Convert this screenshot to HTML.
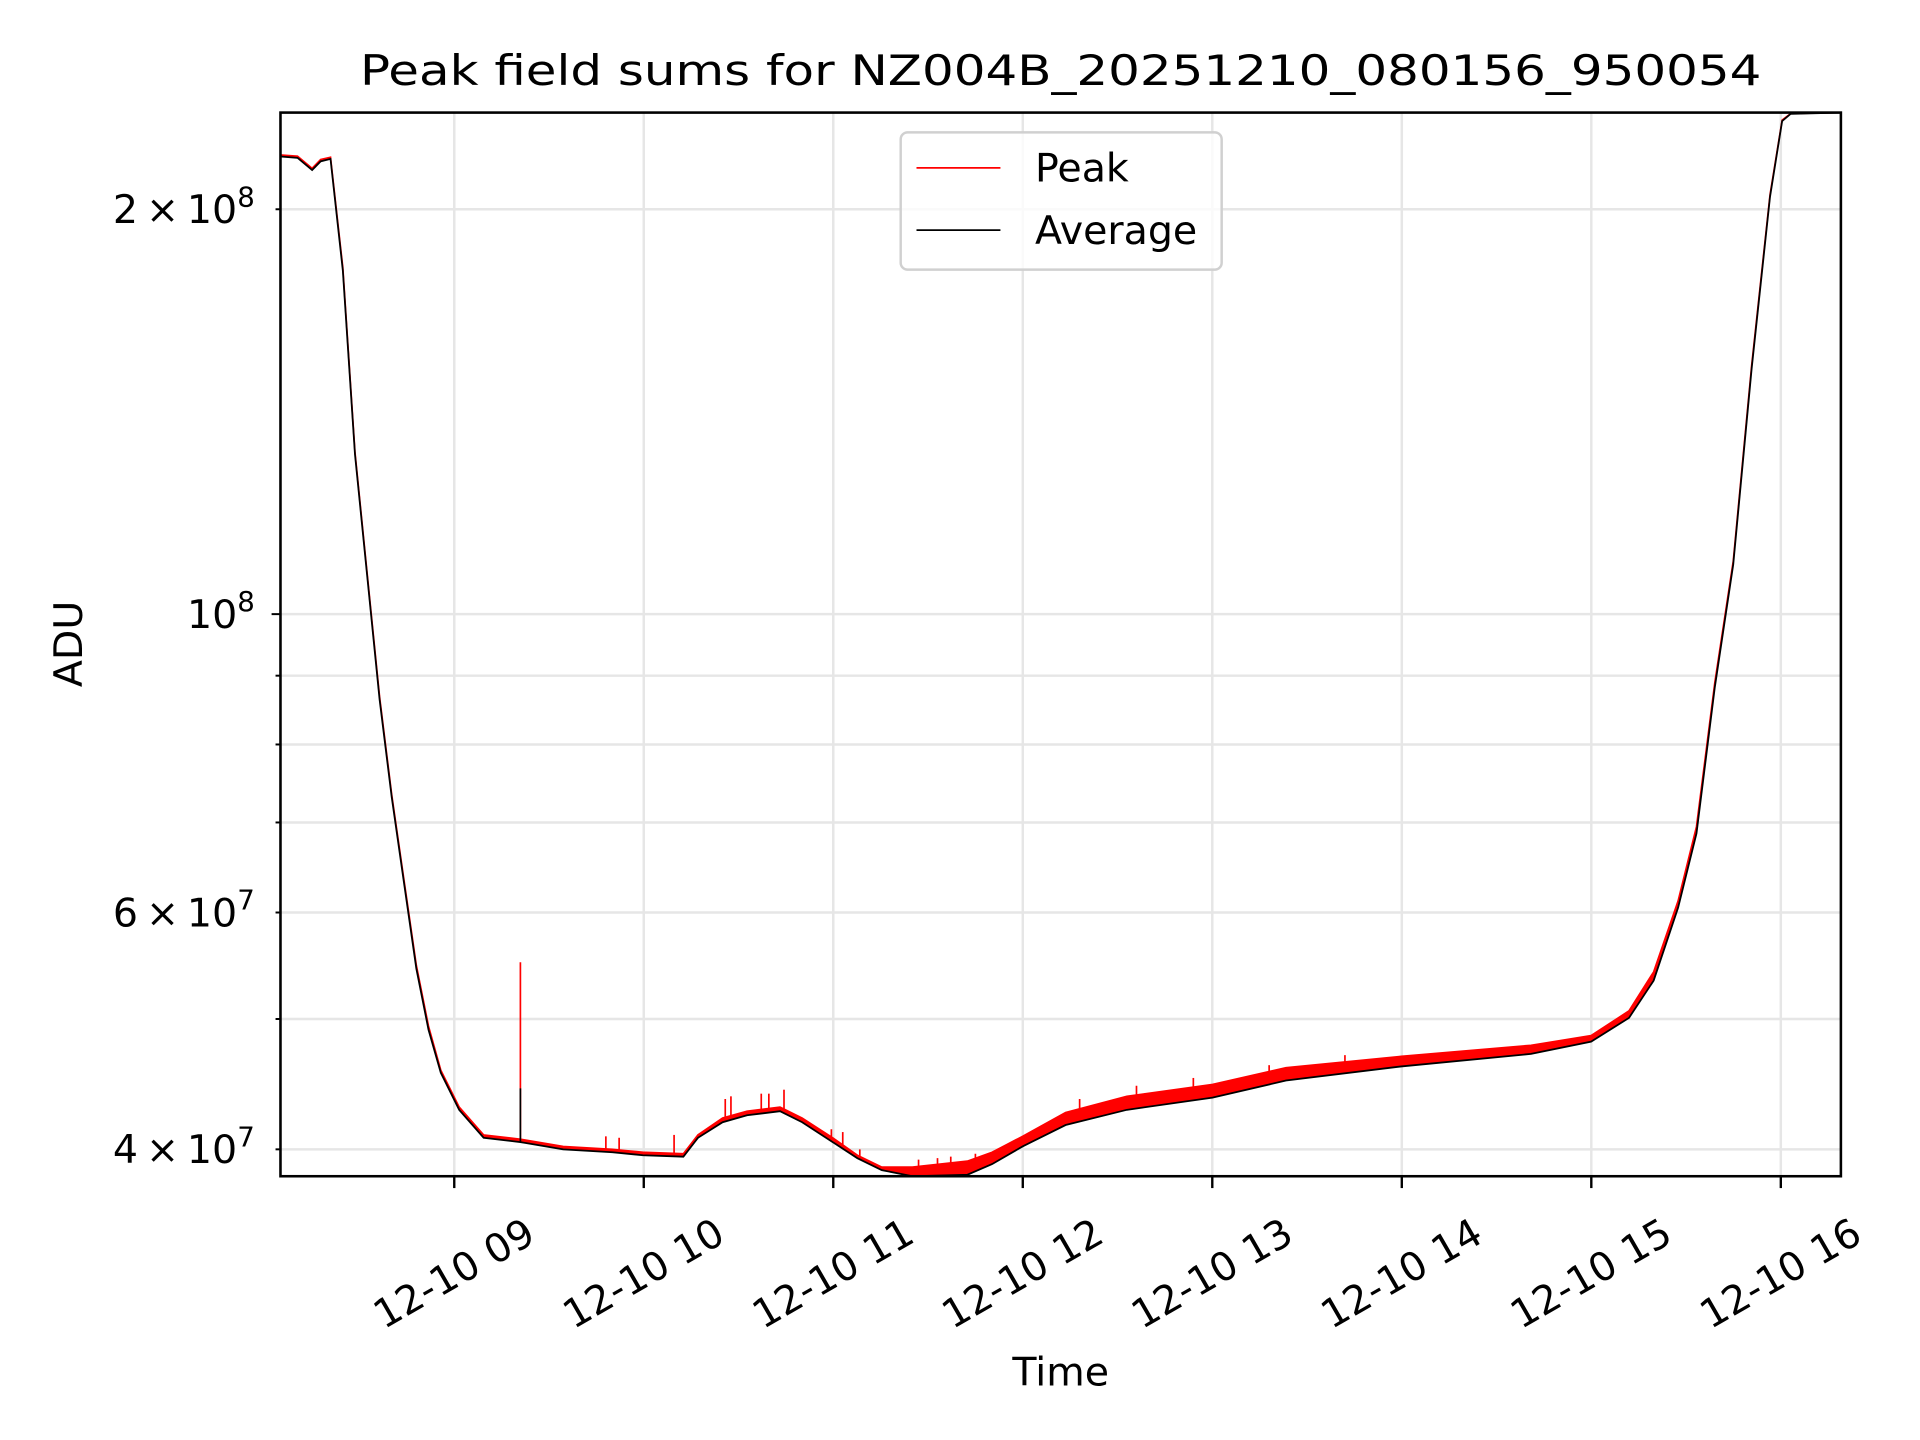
<!DOCTYPE html>
<html><head><meta charset="utf-8"><style>
html,body{margin:0;padding:0;background:#fff}
svg{display:block}
text{font-family:"DejaVu Sans","Liberation Sans",sans-serif;fill:#000}
</style></head><body>
<svg id="chart" width="1920" height="1440" viewBox="0 0 1920 1440" xmlns="http://www.w3.org/2000/svg">
<rect width="1920" height="1440" fill="#fff"/>
<g transform="scale(0.9876)">
<g id="grid"></g>
<g id="series"></g>
<rect x="284" y="114" width="1580" height="1077" fill="none" stroke="#000" stroke-width="2.6"/>
<g id="ticks"></g>
<text x="1074" y="86" text-anchor="middle" font-size="42" textLength="1419" lengthAdjust="spacingAndGlyphs">Peak field sums for NZ004B_20251210_080156_950054</text>
<text transform="translate(83,652) rotate(-90)" text-anchor="middle" font-size="40">ADU</text>
<text x="1074" y="1403" text-anchor="middle" font-size="40">Time</text>
<g>
<rect x="912" y="134" width="325" height="139" rx="7" fill="#fff" fill-opacity="0.8" stroke="#d0d0d0" stroke-width="2.5"/>
<line x1="928" y1="170" x2="1013" y2="170" stroke="#f00" stroke-width="1.7"/>
<text x="1048" y="184" font-size="40">Peak</text>
<line x1="928" y1="233" x2="1013" y2="233" stroke="#000" stroke-width="1.7"/>
<text x="1048" y="247" font-size="40">Average</text>
</g>
</g>
</svg>
<script>
const times = [8.082,8.173,8.250,8.295,8.347,8.412,8.476,8.541,8.606,8.670,8.735,8.800,8.864,8.929,9.026,9.155,9.349,9.575,9.834,9.995,10.209,10.286,10.416,10.545,10.719,10.836,10.997,11.127,11.256,11.418,11.708,11.838,11.999,12.226,12.549,13.001,13.389,13.997,14.682,14.999,15.199,15.329,15.458,15.555,15.652,15.749,15.846,15.943,16.007,16.052,16.317];
const avgValues = [2.189e8,2.184e8,2.139e8,2.171e8,2.180e8,1.801e8,1.315e8,1.066e8,8.64e7,7.31e7,6.31e7,5.45e7,4.91e7,4.56e7,4.28e7,4.08e7,4.05e7,4.00e7,3.98e7,3.96e7,3.95e7,4.08e7,4.19e7,4.24e7,4.27e7,4.19e7,4.05e7,3.94e7,3.86e7,3.82e7,3.83e7,3.90e7,4.02e7,4.17e7,4.28e7,4.37e7,4.50e7,4.61e7,4.71e7,4.81e7,5.01e7,5.34e7,6.05e7,6.87e7,8.83e7,1.089e8,1.522e8,2.043e8,2.326e8,2.355e8,2.36e8];
const peakValues = [2.195e8,2.19e8,2.145e8,2.178e8,2.186e8,1.81e8,1.32e8,1.07e8,8.68e7,7.34e7,6.34e7,5.48e7,4.94e7,4.58e7,4.30e7,4.10e7,4.07e7,4.02e7,4.00e7,3.98e7,3.97e7,4.10e7,4.22e7,4.27e7,4.30e7,4.22e7,4.08e7,3.96e7,3.88e7,3.88e7,3.92e7,3.98e7,4.09e7,4.26e7,4.38e7,4.47e7,4.60e7,4.69e7,4.78e7,4.86e7,5.07e7,5.42e7,6.12e7,6.95e7,8.90e7,1.095e8,1.53e8,2.05e8,2.33e8,2.356e8,2.36e8];
const spikeTimes = [9.349,9.80,9.87,10.16,10.43,10.46,10.62,10.66,10.74,10.99,11.05,11.14,11.45,11.55,11.62,11.75,12.3,12.6,12.9,13.3,13.7];
const spikeValues = [5.51e7,4.09e7,4.08e7,4.10e7,4.36e7,4.38e7,4.40e7,4.40e7,4.43e7,4.14e7,4.12e7,4.00e7,3.93e7,3.94e7,3.95e7,3.97e7,4.36e7,4.46e7,4.52e7,4.62e7,4.70e7];
const avgSpikeTimes = [9.349];
const avgSpikeValues = [4.44e7];
const xTickHours = [9,10,11,12,13,14,15,16];
const xTickLabels = ["12-10 09","12-10 10","12-10 11","12-10 12","12-10 13","12-10 14","12-10 15","12-10 16"];
const yGridValues = [3e7,4e7,5e7,6e7,7e7,8e7,9e7,1e8,2e8];
const yLabelValues = [4e7,6e7,1e8,2e8];
const yLabelMantissa = ["4","6","","2"];
const yLabelExp = ["7","7","8","8"];

const X0=284,X1=1864,Y0=114,Y1=1191;
const tMin=8.083,tMax=16.317;
const lMin=Math.log10(3.82e7),lMax=Math.log10(2.36e8);
function xs(t){return X0+(t-tMin)/(tMax-tMin)*(X1-X0);}
function ys(v){return Y1-(Math.log10(v)-lMin)/(lMax-lMin)*(Y1-Y0);}
const NS="http://www.w3.org/2000/svg";
function mk(tag,attrs,parent){const e=document.createElementNS(NS,tag);for(const k in attrs)e.setAttribute(k,attrs[k]);parent.appendChild(e);return e;}
const grid=document.getElementById('grid'),ticks=document.getElementById('ticks'),series=document.getElementById('series');

yGridValues.forEach(v=>{const y=ys(v);if(y<Y0||y>Y1)return;
 const g=mk('line',{x1:X0,x2:X1,y1:y,y2:y,stroke:'#e6e6e6','stroke-width':2.5},grid);
 
 
 const t=mk('line',{x1:X0-(v===1e8?9:5),x2:X0,y1:y,y2:y,stroke:'#000','stroke-width':2},ticks);
 
 
});
xTickHours.forEach((h,i)=>{const x=xs(h);
 const g=mk('line',{x1:x,x2:x,y1:Y0,y2:Y1,stroke:'#e6e6e6','stroke-width':2.5},grid);
 
 
 const t=mk('line',{x1:x,x2:x,y1:Y1,y2:Y1+12,stroke:'#000','stroke-width':2.4},ticks);
 
 
 const lb=mk('text',{x:x,y:1290,'text-anchor':'middle','dominant-baseline':'central','font-size':40,transform:`rotate(-30 ${x} 1290)`},ticks);
 lb.textContent=xTickLabels[i];
 
 
});
yLabelValues.forEach((v,i)=>{const y=ys(v);
 const lb=mk('text',{x:258,y:y+14,'text-anchor':'end','font-size':40},ticks);
 
 
 let s=yLabelMantissa[i]?yLabelMantissa[i]+'\u2009\u00d7\u200910':'10';
 const a=document.createElementNS(NS,'tspan');a.textContent=s;lb.appendChild(a);
 const b=document.createElementNS(NS,'tspan');b.setAttribute('dy','-17');b.setAttribute('font-size','28');b.textContent=yLabelExp[i];lb.appendChild(b);
});

const clip=mk('clipPath',{id:'plotclip'},series);mk('rect',{x:X0,y:Y0,width:X1-X0,height:Y1-Y0},clip);
const pg=mk('g',{'clip-path':'url(#plotclip)'},series);
let band=times.map((t,i)=>`${xs(t)},${ys(peakValues[i])}`);
for(let i=times.length-1;i>=0;i--)band.push(`${xs(times[i])},${ys(avgValues[i])}`);
const bp=mk('polygon',{points:band.join(' '),fill:'#f00'},pg);


const pl=mk('polyline',{points:times.map((t,i)=>`${xs(t)},${ys(peakValues[i])}`).join(' '),fill:'none',stroke:'#f00','stroke-width':1.7},pg);


function interp(arr,t){for(let i=1;i<times.length;i++){if(t<=times[i]){const f=(t-times[i-1])/(times[i]-times[i-1]);return arr[i-1]*(1-f)+arr[i]*f;}}return arr[arr.length-1];}
spikeTimes.forEach((t,i)=>{const s=mk('line',{x1:xs(t),x2:xs(t),y1:ys(interp(avgValues,t)),y2:ys(spikeValues[i]),stroke:'#f00','stroke-width':1.7},pg);
 
 });
const al=mk('polyline',{points:times.map((t,i)=>`${xs(t)},${ys(avgValues[i])}`).join(' '),fill:'none',stroke:'#000','stroke-width':1.8},pg);


avgSpikeTimes.forEach((t,i)=>{const s=mk('line',{x1:xs(t),x2:xs(t),y1:ys(interp(avgValues,t)),y2:ys(avgSpikeValues[i]),stroke:'#000','stroke-width':1.7},pg);
 
 });
</script>
</body></html>
